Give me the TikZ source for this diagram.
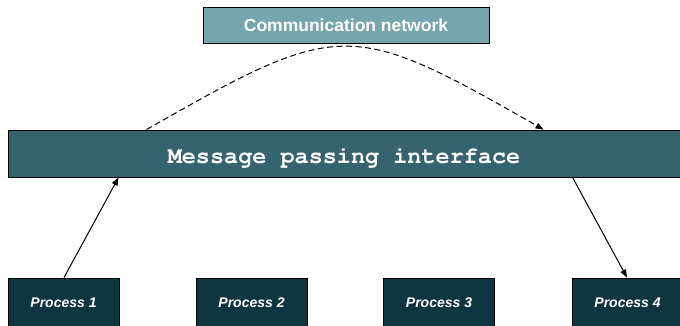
\documentclass[tikz,border=0pt]{standalone}
\usepackage{fontspec}
\setmainfont{Liberation Sans}
\usetikzlibrary{arrows.meta,calc}
\newcommand{\mpicourier}{\fontencoding{T1}\fontfamily{pcr}\fontseries{b}\fontshape{n}\fontsize{23.5}{26}\selectfont}
\definecolor{commfill}{HTML}{76A5AE}
\definecolor{mpifill}{HTML}{35636E}
\definecolor{procfill}{HTML}{0E3540}
\tikzset{
  box/.style={draw=black, line width=0.9pt, inner sep=0pt},
  procbox/.style={box, fill=procfill, minimum width=111pt, minimum height=50pt,
    text=white, font=\fontsize{14}{16}\selectfont\bfseries\itshape},
  link/.style={draw=black, line width=1pt, -{Triangle[length=8pt,width=6pt]}},
}
\begin{document}
\begin{tikzpicture}[x=1pt,y=-1pt]
\useasboundingbox (0,0) rectangle (680,326);
\clip (0,0) rectangle (680,326);
\fill[white] (0,0) rectangle (680,326);
% communication network
\node[box, fill=commfill, minimum width=286pt, minimum height=36pt, text=white,
  font=\fontsize{17.5}{20}\selectfont\bfseries] (comm) at (346,25.5) {Communication network};
% message passing interface
\node[box, fill=mpifill, minimum width=682pt, minimum height=47pt] (mpi) at (349,153.5) {};
\node[text=white, font=\mpicourier, inner sep=0pt] (mpitext) at (344,157) {Message passing interface};
% processes
\node[procbox] (p1) at (63.5,303) {Process 1};
\node[procbox] (p2) at (251.5,303) {Process 2};
\node[procbox] (p3) at (439,303) {Process 3};
\node[procbox] (p4) at (627.5,303) {Process 4};
% connectors
\coordinate (a1) at ($(mpi.south west)+(111,0)$);
\coordinate (a2) at ($(mpi.south west)+(565,0)$);
\coordinate (c1) at ($(mpi.north west)+(139,0)$);
\coordinate (c2) at ($(mpi.north west)+(536,0)$);
\draw[link] ([xshift=0.5pt]p1.north) -- (a1);
\draw[link] (a2) -- ([xshift=-0.5pt]p4.north);
\draw[link, dash pattern=on 6pt off 3.5pt] (c1) .. controls (340,19) and (350,19) .. (c2);
\end{tikzpicture}
\end{document}
